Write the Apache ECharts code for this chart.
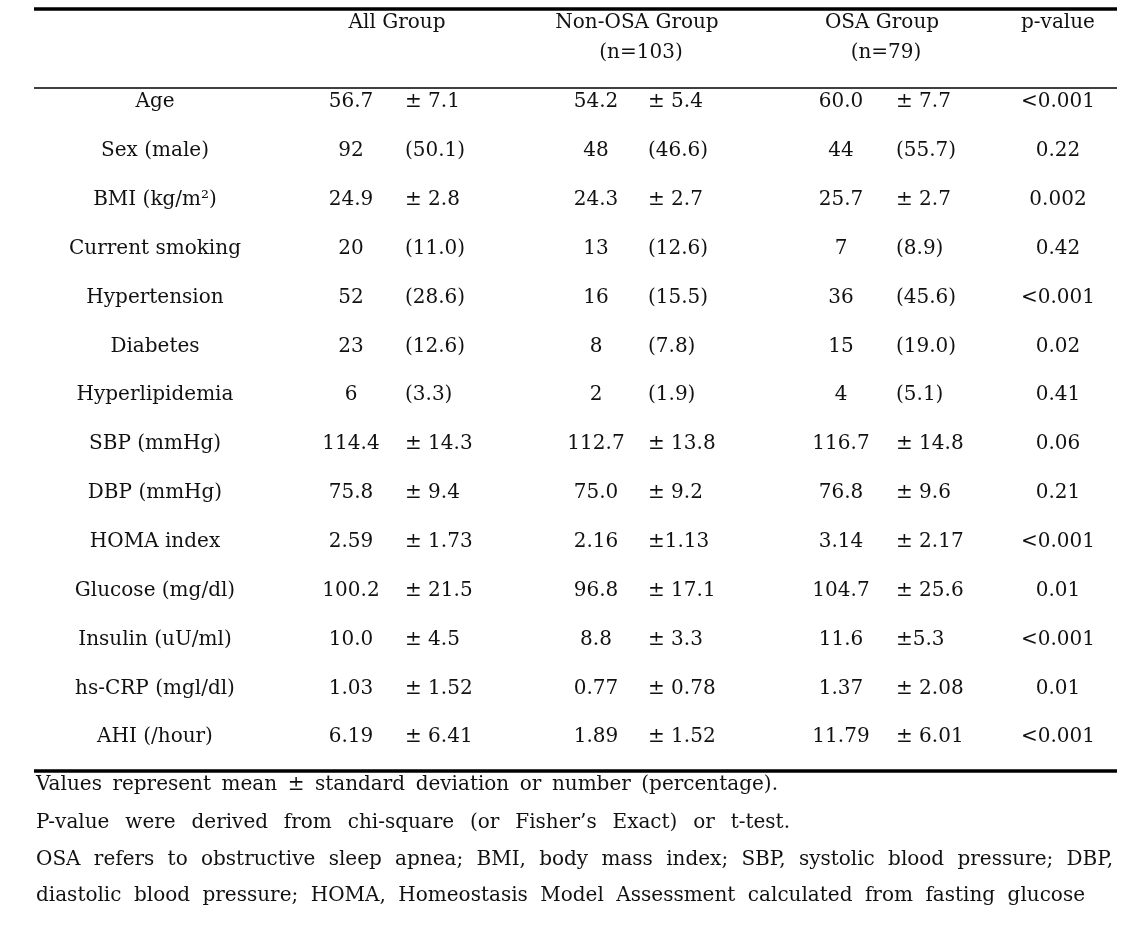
<!DOCTYPE html>
<html><head><meta charset="utf-8">
<script src="https://cdn.jsdelivr.net/npm/echarts@6/dist/echarts.min.js"></script>
<style>html,body{margin:0;padding:0;background:#fff}#c{width:1137px;height:947px}</style>
</head><body><div id="c"></div><script>
// ---------- data ----------
const rowLabels = ['Age','Sex (male)','BMI (kg/m²)','Current smoking','Hypertension','Diabetes','Hyperlipidemia','SBP (mmHg)','DBP (mmHg)','HOMA index','Glucose (mg/dl)','Insulin (uU/ml)','hs-CRP (mgl/dl)','AHI (/hour)'];
const allMean = ['56.7','92','24.9','20','52','23','6','114.4','75.8','2.59','100.2','10.0','1.03','6.19'];
const allSd   = ['± 7.1','(50.1)','± 2.8','(11.0)','(28.6)','(12.6)','(3.3)','± 14.3','± 9.4','± 1.73','± 21.5','± 4.5','± 1.52','± 6.41'];
const nonMean = ['54.2','48','24.3','13','16','8','2','112.7','75.0','2.16','96.8','8.8','0.77','1.89'];
const nonSd   = ['± 5.4','(46.6)','± 2.7','(12.6)','(15.5)','(7.8)','(1.9)','± 13.8','± 9.2','±1.13','± 17.1','± 3.3','± 0.78','± 1.52'];
const osaMean = ['60.0','44','25.7','7','36','15','4','116.7','76.8','3.14','104.7','11.6','1.37','11.79'];
const osaSd   = ['± 7.7','(55.7)','± 2.7','(8.9)','(45.6)','(19.0)','(5.1)','± 14.8','± 9.6','± 2.17','± 25.6','±5.3','± 2.08','± 6.01'];
const pValues = ['<0.001','0.22','0.002','0.42','<0.001','0.02','0.41','0.06','0.21','<0.001','0.01','<0.001','0.01','<0.001'];
const headerLine1 = ['All Group','Non-OSA Group','OSA Group','p-value'];
const headerLine2 = ['','(n=103)','(n=79)',''];
const footnotes = [
  'Values represent mean ± standard deviation or number (percentage).',
  'P-value were derived from chi-square (or Fisher’s Exact) or t-test.',
  'OSA refers to obstructive sleep apnea; BMI, body mass index; SBP, systolic blood pressure; DBP,',
  'diastolic blood pressure; HOMA, Homeostasis Model Assessment calculated from fasting glucose'
];

// ---------- layout ----------
const FONT = 'DejaVu Serif';
const FS = 20;
const W = 1137;
const INK = '#111';
const columns = [
  {values: rowLabels, x: 155, align: 'center'},
  {values: allMean, x: 351, align: 'center'},
  {values: allSd,   x: 405, align: 'left'},
  {values: nonMean, x: 596, align: 'center'},
  {values: nonSd,   x: 648, align: 'left'},
  {values: osaMean, x: 841, align: 'center'},
  {values: osaSd,   x: 896, align: 'left'},
  {values: pValues, x: 1058, align: 'center'}
];
const headerX = [397, 637, 882, 1058];
const headerY = [23, 53];
const footY = [785, 823, 860, 896];
const footLeft = 36;
const footRight = [778, 790, 1113, 1085];

const fontStr = FS + 'px "' + FONT + '"';
const measure = (() => { const c = document.createElement('canvas').getContext('2d'); c.font = fontStr; return t => c.measureText(t).width; })();

const series = columns.map(col => ({
  type: 'scatter',
  silent: true,
  symbolSize: 1,
  itemStyle: {color: 'rgba(0,0,0,0)', opacity: 1},
  data: col.values.map((v, i) => [col.x, rowLabels[i]]),
  label: {
    show: true,
    position: 'inside',
    align: col.align,
    verticalAlign: 'middle',
    color: INK,
    opacity: 1,
    fontFamily: FONT,
    fontSize: FS,
    formatter: p => col.values[p.dataIndex]
  }
}));

const graphic = [];
const line = (y, w) => graphic.push({type: 'line', silent: true,
  shape: {x1: 34, y1: y, x2: 1117, y2: y}, style: {stroke: '#000', lineWidth: w}});
line(9, 3.5); line(88, 1.5); line(771, 3.5);
const txt = (t, x, y, align) => ({type: 'text', silent: true, x: x, y: y,
  style: {text: t, fill: INK, font: fontStr, textAlign: align, textVerticalAlign: 'middle'}});
headerLine1.forEach((t, i) => graphic.push(txt(t, headerX[i], headerY[0], 'center')));
headerLine2.forEach((t, i) => t && graphic.push(txt(t, headerX[i] + 4, headerY[1], 'center')));
// justified footnote lines (words spread between left and right edge)
footnotes.forEach((t, i) => {
  const words = t.split(' ');
  const wordsW = words.reduce((s, w) => s + measure(w), 0);
  const gap = (footRight[i] - footLeft - wordsW) / (words.length - 1);
  let x = footLeft;
  words.forEach(w => { graphic.push(txt(w, x, footY[i], 'left')); x += measure(w) + gap; });
});

const chart = echarts.init(document.getElementById('c'), null, {renderer: 'canvas'});
chart.setOption({
  animation: false,
  backgroundColor: '#fff',
  grid: {left: 0, right: 0, top: 77.6, height: 684},
  xAxis: {type: 'value', min: 0, max: W, show: false},
  yAxis: {type: 'category', data: rowLabels, inverse: true, show: false},
  series: series,
  graphic: graphic
});
</script></body></html>
